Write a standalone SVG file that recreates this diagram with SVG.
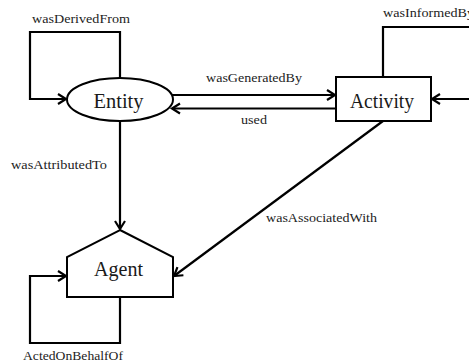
<svg xmlns="http://www.w3.org/2000/svg" width="469" height="363" viewBox="0 0 469 363">
  <style>
    .shape { fill: #fff; stroke: #000; stroke-width: 2; }
    .edge { fill: none; stroke: #000; stroke-width: 2.2; }
    .node-label { font-family: "Liberation Serif", serif; font-size: 21px; fill: #1a1a1a; text-anchor: middle; }
    .edge-label { font-family: "Liberation Serif", serif; font-size: 13px; fill: #222; }
  </style>
  <defs>
    <marker id="arrow" markerUnits="userSpaceOnUse" markerWidth="14" markerHeight="14" viewBox="-10 -7 12 14" refX="0" refY="0" orient="auto" overflow="visible">
      <path d="M-8,-5 L0,0 L-8,5" fill="none" stroke="#000" stroke-width="2.2"/>
    </marker>
  </defs>
  <rect width="469" height="363" fill="#fff"/>

  <g id="connectors">
    <!-- wasDerivedFrom: Entity to itself -->
    <path class="edge" d="M120,78 V32 H30 V99 H66" marker-end="url(#arrow)"/>
    <!-- wasGeneratedBy -->
    <path class="edge" d="M172,95 H335" marker-end="url(#arrow)"/>
    <!-- used -->
    <path class="edge" d="M336,108.5 H172" marker-end="url(#arrow)"/>
    <!-- wasInformedBy: Activity to itself -->
    <path class="edge" d="M383,77 V27 H480 V99 H432" marker-end="url(#arrow)"/>
    <!-- wasAttributedTo -->
    <path class="edge" d="M120,121 V229" marker-end="url(#arrow)"/>
    <!-- wasAssociatedWith -->
    <path class="edge" d="M383,121 L174,276" marker-end="url(#arrow)"/>
    <!-- ActedOnBehalfOf: Agent to itself -->
    <path class="edge" d="M120,297 V343 H30 V276 H66" marker-end="url(#arrow)"/>

    <text class="edge-label" x="32" y="23" textLength="98" lengthAdjust="spacingAndGlyphs">wasDerivedFrom</text>
    <text class="edge-label" x="206" y="82" textLength="96" lengthAdjust="spacingAndGlyphs">wasGeneratedBy</text>
    <text class="edge-label" x="241" y="124" textLength="26" lengthAdjust="spacingAndGlyphs">used</text>
    <text class="edge-label" x="383" y="17" textLength="91" lengthAdjust="spacingAndGlyphs">wasInformedBy</text>
    <text class="edge-label" x="11" y="169" textLength="96" lengthAdjust="spacingAndGlyphs">wasAttributedTo</text>
    <text class="edge-label" x="266" y="222" textLength="111" lengthAdjust="spacingAndGlyphs">wasAssociatedWith</text>
    <text class="edge-label" x="23" y="360" textLength="100" lengthAdjust="spacingAndGlyphs">ActedOnBehalfOf</text>
  </g>

  <g id="entity">
    <ellipse class="shape" cx="120" cy="99.5" rx="53" ry="21.5"/>
    <text class="node-label" x="118.5" y="108" textLength="50" lengthAdjust="spacingAndGlyphs">Entity</text>
  </g>

  <g id="activity">
    <rect class="shape" x="336" y="77" width="95" height="44"/>
    <text class="node-label" x="382" y="108" textLength="64" lengthAdjust="spacingAndGlyphs">Activity</text>
  </g>

  <g id="agent">
    <polygon class="shape" points="120,230 173,257 173,297 67,297 67,257"/>
    <text class="node-label" x="118.5" y="276" textLength="49" lengthAdjust="spacingAndGlyphs">Agent</text>
  </g>
</svg>
